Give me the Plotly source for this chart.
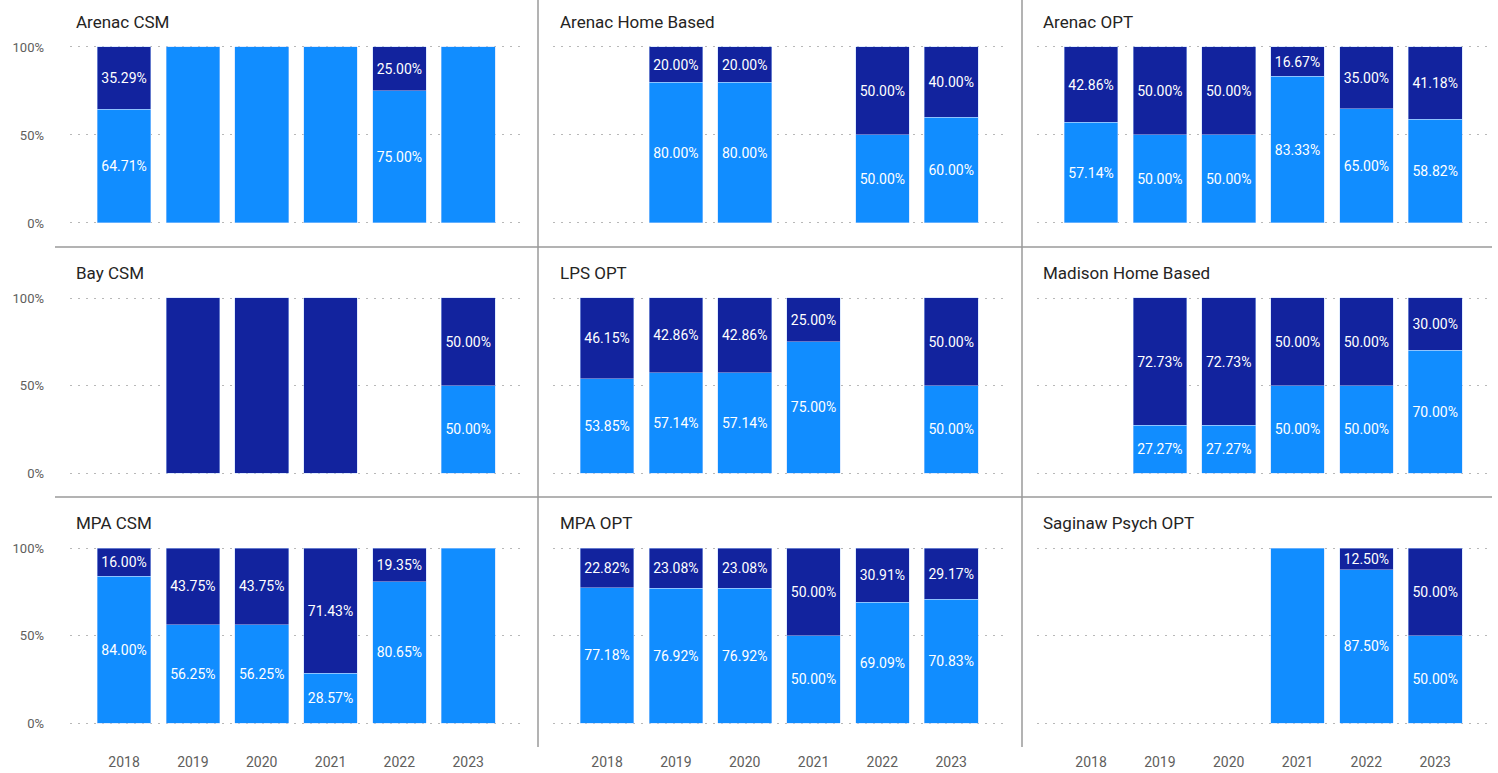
import plotly.graph_objects as go

years = ["2018", "2019", "2020", "2021", "2022", "2023"]
panels = ["Arenac CSM", "Arenac Home Based", "Arenac OPT",
          "Bay CSM", "LPS OPT", "Madison Home Based",
          "MPA CSM", "MPA OPT", "Saginaw Psych OPT"]

# bottom (light blue) series, percent
arenac_csm_light = [64.71, 100, 100, 100, 75.00, 100]
arenac_home_light = [None, 80.00, 80.00, None, 50.00, 60.00]
arenac_opt_light = [57.14, 50.00, 50.00, 83.33, 65.00, 58.82]
bay_csm_light = [None, None, None, None, None, 50.00]
lps_opt_light = [53.85, 57.14, 57.14, 75.00, None, 50.00]
madison_home_light = [None, 27.27, 27.27, 50.00, 50.00, 70.00]
mpa_csm_light = [84.00, 56.25, 56.25, 28.57, 80.65, 100]
mpa_opt_light = [77.18, 76.92, 76.92, 50.00, 69.09, 70.83]
saginaw_opt_light = [None, None, None, 100, 87.50, 50.00]

# top (dark blue) series, percent
arenac_csm_dark = [35.29, None, None, None, 25.00, None]
arenac_home_dark = [None, 20.00, 20.00, None, 50.00, 40.00]
arenac_opt_dark = [42.86, 50.00, 50.00, 16.67, 35.00, 41.18]
bay_csm_dark = [None, 100, 100, 100, None, 50.00]
lps_opt_dark = [46.15, 42.86, 42.86, 25.00, None, 50.00]
madison_home_dark = [None, 72.73, 72.73, 50.00, 50.00, 30.00]
mpa_csm_dark = [16.00, 43.75, 43.75, 71.43, 19.35, None]
mpa_opt_dark = [22.82, 23.08, 23.08, 50.00, 30.91, 29.17]
saginaw_opt_dark = [None, None, None, None, 12.50, 50.00]

light_series = [arenac_csm_light, arenac_home_light, arenac_opt_light,
                bay_csm_light, lps_opt_light, madison_home_light,
                mpa_csm_light, mpa_opt_light, saginaw_opt_light]
dark_series = [arenac_csm_dark, arenac_home_dark, arenac_opt_dark,
               bay_csm_dark, lps_opt_dark, madison_home_dark,
               mpa_csm_dark, mpa_opt_dark, saginaw_opt_dark]

LIGHT = "#118DFF"
DARK = "#12239E"
FONT = "Roboto"
W, H = 1498, 773

col_px = [(70, 526), (553, 1009), (1037, 1493)]
row_px = [(47, 223), (298, 473), (548, 723)]
title_x = [74, 558, 1041]
title_y = [22, 273, 523]
PAD = 0.012


def lab(vals):
    return ["" if (v is None or v >= 100) else f"{v:.2f}%" for v in vals]


def frac(vals):
    return [None if v is None else v / 100 for v in vals]


fig = go.Figure()
layout_axes = {}
annotations = []
for i, name in enumerate(panels):
    r, c = divmod(i, 3)
    n = i + 1
    xa = "x" if n == 1 else f"x{n}"
    ya = "y" if n == 1 else f"y{n}"
    for vals, color in ((light_series[i], LIGHT), (dark_series[i], DARK)):
        fig.add_trace(go.Bar(
            x=years, y=frac(vals), text=lab(vals), xaxis=xa, yaxis=ya,
            marker=dict(color=color, line=dict(color="rgba(190,215,255,0.6)", width=0.8)),
            width=0.78, textposition="inside", insidetextanchor="middle",
            textangle=0,
            textfont=dict(family=FONT, size=14, color="white"),
            hoverinfo="skip", showlegend=False,
        ))
    x0, x1 = col_px[c]
    y0, y1 = row_px[r]
    unit = (y1 - y0)
    xkey = "xaxis" if n == 1 else f"xaxis{n}"
    ykey = "yaxis" if n == 1 else f"yaxis{n}"
    layout_axes[xkey] = dict(
        domain=[x0 / W, x1 / W], anchor=ya, type="category",
        categoryorder="array", categoryarray=years,
        range=[-0.785, 5.84], showgrid=False, zeroline=False, showline=False,
        showticklabels=(r == 2), ticks="", ticklabelstandoff=27, automargin=False,
        tickfont=dict(family=FONT, size=14, color="#605E5C"), fixedrange=True,
    )
    layout_axes[ykey] = dict(
        domain=[1 - (y1 + PAD * unit) / H, 1 - (y0 - PAD * unit) / H], anchor=xa,
        range=[-PAD, 1 + PAD],
        tickvals=[0, 0.5, 1], ticktext=["0%", "50%", "100%"],
        showgrid=True, gridcolor="#B8B8B8", griddash="2px,6px", gridwidth=1,
        zeroline=False, showline=False, ticks="", automargin=False,
        showticklabels=(c == 0), ticklabelstandoff=25,
        tickfont=dict(family=FONT, size=13, color="#605E5C"), fixedrange=True,
    )
    annotations.append(dict(
        text=name, xref="paper", yref="paper", x=title_x[c] / W, y=1 - title_y[r] / H,
        xanchor="left", yanchor="middle", showarrow=False,
        font=dict(family=FONT, size=17, color="#252423"),
    ))

shapes = []
for xv in (538, 1022):
    shapes.append(dict(type="line", xref="paper", yref="paper",
                       x0=xv / W, x1=xv / W, y0=1, y1=1 - 747 / H,
                       line=dict(color="#9A9A9A", width=1.5)))
for yv in (247, 497):
    shapes.append(dict(type="line", xref="paper", yref="paper",
                       x0=55 / W, x1=1492 / W, y0=1 - yv / H, y1=1 - yv / H,
                       line=dict(color="#9A9A9A", width=1.5)))

fig.update_layout(
    template="none",
    width=W, height=H, margin=dict(l=0, r=0, t=0, b=0, pad=0, autoexpand=False),
    paper_bgcolor="white", plot_bgcolor="white",
    barmode="stack", showlegend=False,
    annotations=annotations, shapes=shapes,
    uniformtext=dict(minsize=14, mode="show"),
    font=dict(family=FONT),
    **layout_axes,
)

fig.write_html("out.html", config={"displayModeBar": False, "staticPlot": True})
